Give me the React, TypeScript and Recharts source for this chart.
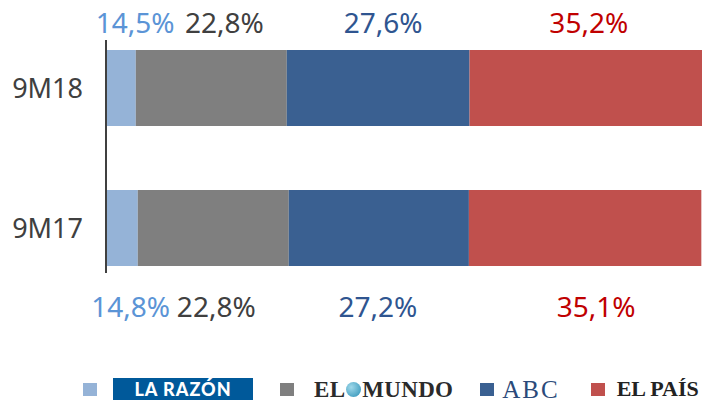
import { BarChart, Bar, XAxis, YAxis, Legend, LabelList } from "recharts";

const periods = ["9M18", "9M17"];
const laRazon = [14.5, 14.8];
const elMundo = [22.8, 22.8];
const abc = [27.6, 27.2];
const elPais = [35.2, 35.1];

const seriesNames = ["LA RAZÓN", "EL MUNDO", "ABC", "EL PAÍS"];
const seriesKeys = ["laRazon", "elMundo", "abc", "elPais"];

// el eje empieza en 10, no en 0 (como en el original)
const X_MIN = 10;
const X_MAX = 100;

const data = periods.map((p, i) => ({
  period: p,
  laRazon: laRazon[i],
  elMundo: elMundo[i],
  abc: abc[i],
  elPais: elPais[i],
}));

const barColors: Record<string, string> = {
  laRazon: "#95B3D7",
  elMundo: "#7F7F7F",
  abc: "#3A6091",
  elPais: "#C0504D",
};

const labelColors: Record<string, string> = {
  laRazon: "#5B94D6",
  elMundo: "#404040",
  abc: "#2F5590",
  elPais: "#C00000",
};

// pequeños desplazamientos de las etiquetas, colocadas a mano en el original
const labelDx: Record<string, number[]> = {
  laRazon: [4, -2],
  elMundo: [13, 3],
  abc: [5, -1],
  elPais: [3, 11],
};

const fmt = (v: number) => `${v.toFixed(1).replace(".", ",")}%`;

function makeLabel(key: string, first: boolean) {
  return (props: any) => {
    const { x, y, width, height, value, index } = props;
    let left = Number(x);
    let w = Number(width);
    if (first) {
      // parte visible del primer tramo (el eje no arranca en 0)
      const visible = (w * (value - X_MIN)) / value;
      left = left + w - visible;
      w = visible;
    }
    const cx = left + w / 2 + labelDx[key][index];
    const ty = index === 0 ? Number(y) - 17 : Number(y) + Number(height) + 51;
    return (
      <text
        x={cx}
        y={ty}
        textAnchor="middle"
        fontSize={28}
        fill={labelColors[key]}
        fontFamily="Noto Sans"
      >
        {fmt(value)}
      </text>
    );
  };
}

const itemGap: Record<string, number> = { laRazon: 27, elMundo: 27, abc: 31, elPais: 0 };
const squareGap: Record<string, number> = { laRazon: 16, elMundo: 20, abc: 8, elPais: 12 };

function Logo({ id }: { id: string }) {
  if (id === "laRazon") {
    return (
      <div
        style={{
          width: 140,
          height: 22,
          background: "#00599A",
          color: "#fff",
          fontFamily: "Lato",
          fontWeight: 900,
          fontSize: 18,
          lineHeight: 1,
          letterSpacing: 1,
          display: "flex",
          alignItems: "center",
          justifyContent: "center",
        }}
      >
        LA RAZÓN
      </div>
    );
  }
  if (id === "elMundo") {
    return (
      <div
        style={{
          fontFamily: "Liberation Serif",
          fontWeight: 700,
          fontSize: 23,
          lineHeight: 1,
          color: "#2b2b2b",
          display: "flex",
          alignItems: "center",
          letterSpacing: 0.3,
        }}
      >
        EL
        <span
          style={{
            display: "inline-block",
            width: 15,
            height: 15,
            borderRadius: "50%",
            margin: "0 1px",
            background: "radial-gradient(circle at 35% 35%, #9fd8ea, #2a8fb5)",
          }}
        />
        MUNDO
      </div>
    );
  }
  if (id === "abc") {
    return (
      <div
        style={{
          fontFamily: "Liberation Serif",
          fontSize: 25,
          lineHeight: 1,
          letterSpacing: 2,
          color: "#2B4A7A",
        }}
      >
        ABC
      </div>
    );
  }
  return (
    <div
      style={{
        fontFamily: "Liberation Serif",
        fontWeight: 700,
        fontSize: 22,
        lineHeight: 1,
        color: "#222",
        whiteSpace: "nowrap",
      }}
    >
      EL PAÍS
    </div>
  );
}

function LegendContent() {
  return (
    <div style={{ display: "flex", alignItems: "center", height: 20, paddingLeft: 75 }}>
      {seriesKeys.map((k) => (
        <div key={k} style={{ display: "flex", alignItems: "center", marginRight: itemGap[k] }}>
          <span
            style={{
              display: "inline-block",
              width: 14,
              height: 13,
              background: barColors[k],
              marginRight: squareGap[k],
            }}
          />
          <Logo id={k} />
        </div>
      ))}
    </div>
  );
}

export default function App() {
  return (
    <BarChart
      width={702}
      height={392}
      data={data}
      layout="vertical"
      margin={{ top: 32, right: 8, left: 0, bottom: 107 }}
      style={{ fontFamily: "Noto Sans" }}
    >
      <XAxis type="number" domain={[X_MIN, X_MAX]} allowDataOverflow hide />
      <YAxis
        type="category"
        dataKey="period"
        width={98}
        tickLine={false}
        tickMargin={17}
        axisLine={{ stroke: "#404040", strokeWidth: 2 }}
        tick={{ fontSize: 27, fill: "#404040", fontFamily: "Noto Sans" }}
        padding={{ top: -22, bottom: -25 }}
      />
      <Legend
        verticalAlign="bottom"
        content={<LegendContent />}
        wrapperStyle={{ left: 0, bottom: 1, width: 702 }}
      />
      {seriesKeys.map((k, i) => (
        <Bar
          key={k}
          dataKey={k}
          name={seriesNames[i]}
          stackId="a"
          fill={barColors[k]}
          barSize={76}
          isAnimationActive={false}
        >
          <LabelList dataKey={k} content={makeLabel(k, i === 0)} />
        </Bar>
      ))}
    </BarChart>
  );
}
